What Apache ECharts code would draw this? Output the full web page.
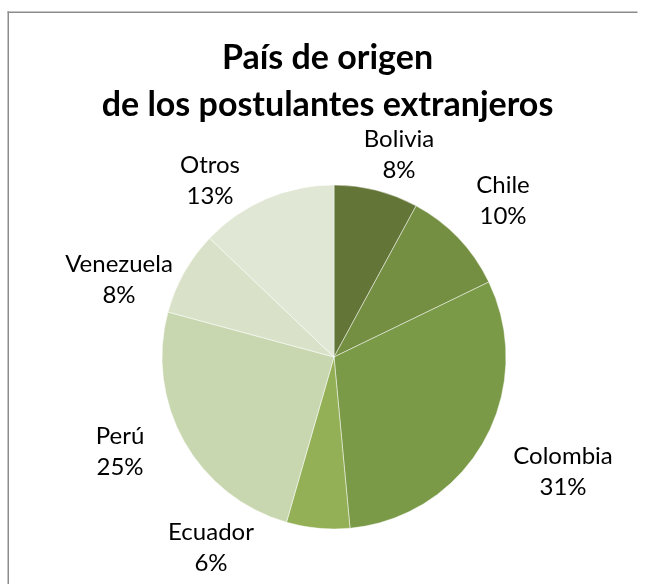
<!DOCTYPE html>
<html>
<head>
<meta charset="utf-8">
<script src="https://cdn.jsdelivr.net/npm/echarts@6/dist/echarts.min.js"></script>
<style>
  html, body { margin: 0; padding: 0; background: #fff; overflow: hidden; }
  #chart { width: 655px; height: 584px; }
</style>
</head>
<body>
<div id="chart"></div>
<script>
// Country of origin of foreign applicants (percent)
const countries = ['Bolivia', 'Chile', 'Colombia', 'Ecuador', 'Perú', 'Venezuela', 'Otros'];
const shares = [8, 10, 31, 6, 25, 8, 13];
const sliceColors = ['#637537', '#758f42', '#7a9a48', '#93b056', '#c9d7b0', '#d9e2c8', '#e0e7d4'];
// Label centre offsets from the pie centre (px)
const labelOffsets = [[65, -202], [169, -156], [229, 115], [-123, 191], [-214, 95], [-215, -77], [-124, -176]];

const cx = 334, cy = 357;
const chart = echarts.init(document.getElementById('chart'));

chart.setOption({
  animation: false,
  title: {
    text: 'País de origen\nde los postulantes extranjeros',
    left: 'center',
    top: 30,
    textStyle: {
      fontFamily: 'Lato', fontWeight: 'bold', fontSize: 34, color: '#000', lineHeight: 47
    }
  },
  // chart-area frame: left and top edges
  graphic: [
    { type: 'rect', shape: { x: 7.5, y: 11.5, width: 1.5, height: 600 }, style: { fill: '#8c8c8c' }, silent: true },
    { type: 'rect', shape: { x: 7.5, y: 11.5, width: 630, height: 1.5 }, style: { fill: '#8c8c8c' }, silent: true }
  ],
  series: [{
    type: 'pie',
    center: [cx, cy],
    radius: 172,
    startAngle: 90,
    clockwise: true,
    data: countries.map((name, i) => ({
      name: name,
      value: shares[i],
      itemStyle: { color: sliceColors[i] }
    })),
    itemStyle: { borderColor: 'rgba(255,255,255,0.6)', borderWidth: 0.8 },
    label: {
      show: true,
      position: 'outside',
      formatter: p => p.name + '\n' + p.value + '%',
      fontFamily: 'Lato',
      fontSize: 24,
      lineHeight: 31,
      color: '#000',
      align: 'center'
    },
    labelLine: { show: false },
    labelLayout: params => {
      const off = labelOffsets[params.dataIndex];
      return { x: cx + off[0], y: cy + off[1], align: 'center', verticalAlign: 'middle' };
    }
  }]
});
</script>
</body>
</html>
